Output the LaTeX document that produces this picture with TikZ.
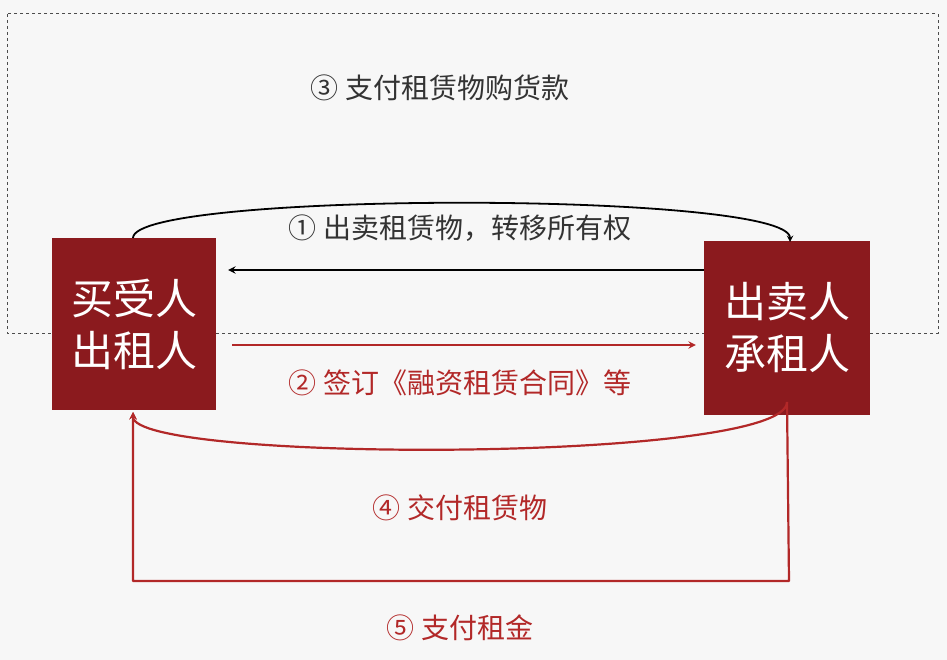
\documentclass[tikz,border=0pt]{standalone}
\usepackage{fontspec}
\setmainfont{Noto Sans CJK SC}
\definecolor{boxred}{RGB}{139,26,30}
\definecolor{labred}{RGB}{178,40,40}
\begin{document}
\begin{tikzpicture}[x=1pt,y=-1pt,>=stealth,line join=bevel,
  party/.style={fill=boxred,text=white,minimum width=164pt,minimum height=172pt,
    inner sep=0pt,align=center,font=\fontsize{42}{52}\selectfont},
  blacklab/.style={font=\fontsize{28}{32}\selectfont,text=black!80},
  redlab/.style={font=\fontsize{28}{32}\selectfont,text=labred},
  redline/.style={draw=labred,line width=2.2pt}]
  \useasboundingbox[fill=black!3] (0,0) rectangle (947,660);
  % Dashed frame for the payment flow
  \draw[dashed,black!70,line width=1pt] (7,14) rectangle (938,333);
  % Nodes
  \node[party] (buyer) at (134,324) {买受人\\出租人};
  \node[party,minimum width=166pt,minimum height=174pt] (seller) at (787,328) {出卖人\\承租人};
  % Labels
  \node[blacklab] (l3) at (440,88) {③ 支付租赁物购货款};
  \node[blacklab] (l1) at (460,228) {① 出卖租赁物，转移所有权};
  \node[redlab] (l2) at (460,383) {② 签订《融资租赁合同》等};
  \node[redlab] (l4) at (460,508) {④ 交付租赁物};
  \node[redlab] (l5) at (460,628) {⑤ 支付租金};
  % Edges
  \coordinate (bt) at (133,238);
  \coordinate (st) at (790,242);
  \draw[->,line width=1.8pt] (bt) .. controls (133,191) and (790,191) .. (st);
  \draw[->,line width=2.2pt] (seller.west |- 0,270) -- ([xshift=12pt]buyer.east |- 0,270);
  \draw[->,redline] ([xshift=16pt]buyer.east |- 0,345) -- ([xshift=-8pt]seller.west |- 0,345);
  \coordinate (sb) at (787,402);
  \coordinate (bb) at (133,412);
  \draw[->,redline] (sb) .. controls (787,463) and (133,463) .. (bb);
  \draw[->,redline] (sb) -- (789,581) -- (133,581) -- (bb);
\end{tikzpicture}
\end{document}
